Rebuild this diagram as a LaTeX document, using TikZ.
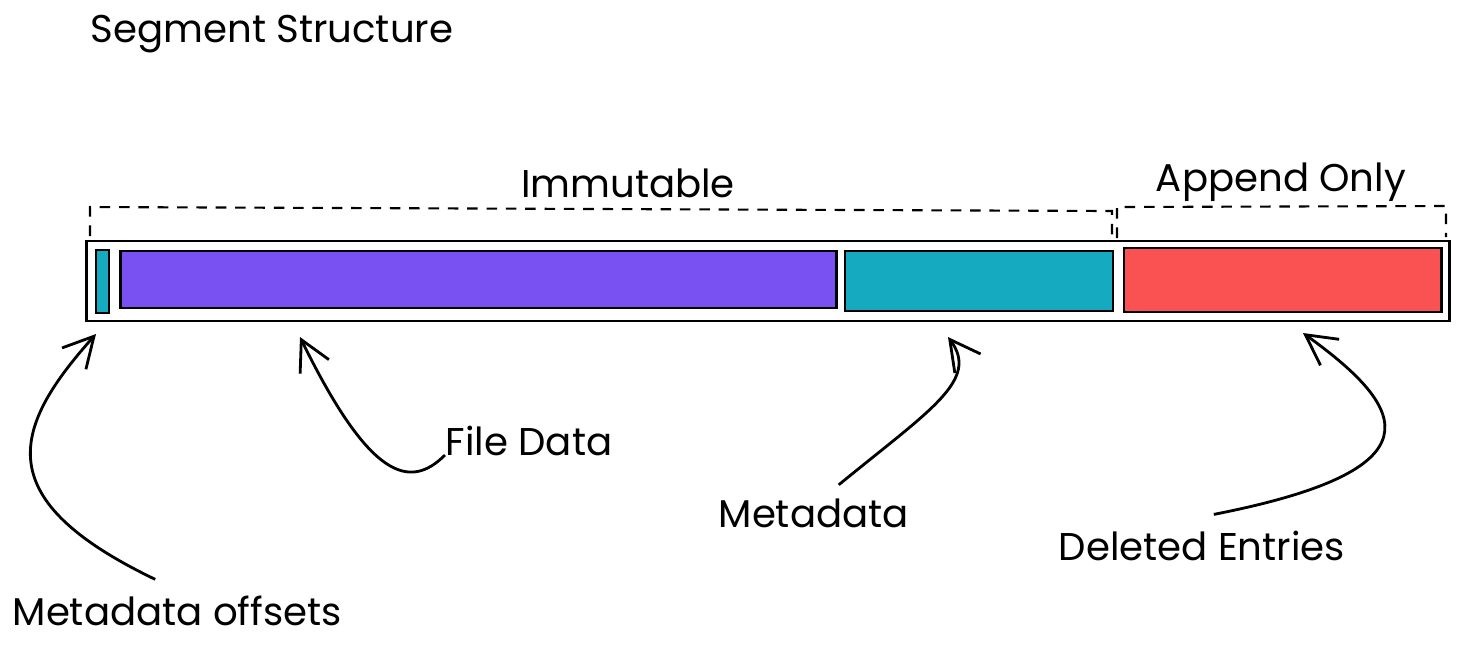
\documentclass[tikz,border=0pt]{standalone}
\usepackage{fontspec}
\setmainfont{Poppins}
\usepackage{xcolor}
\definecolor{segviolet}{RGB}{121,80,242}
\definecolor{segteal}{RGB}{21,170,191}
\definecolor{segred}{RGB}{250,82,82}
\usetikzlibrary{arrows.meta, positioning, calc}

\tikzset{
  part/.style={draw=black, line width=0.8pt, inner sep=0pt},
  hand/.style={font=\fontsize{11}{13}\selectfont, inner sep=0pt},
  bracket/.style={black, line width=0.6pt, dash pattern=on 3pt off 2.5pt},
  pointer/.style={black, line width=0.8pt, -{Straight Barb[length=3mm, width=3.2mm]}},
}

\begin{document}
\begin{tikzpicture}[x=0.01cm, y=-0.01cm]
\useasboundingbox (0,0) rectangle (1459,647);

% Title
\node[hand, anchor=west] (title) at (90,34) {Segment Structure};

% === Segment bar ===
\node[part, minimum width=13.62cm, minimum height=0.80cm] (segment) at (768,281) {};
\node[part, fill=segteal, minimum width=0.13cm, minimum height=0.63cm] (offsets) at (102.5,281.5) {};
\node[part, fill=segviolet, minimum width=7.15cm, minimum height=0.57cm] (filedata) at (478.5,279.5) {};
\node[part, fill=segteal, minimum width=2.68cm, minimum height=0.60cm] (metadata) at (979,281) {};
\node[part, fill=segred, minimum width=3.17cm, minimum height=0.64cm] (deleted) at (1282.5,280) {};

% === Brackets ===
\draw[bracket] (90,236) -- (90,207) -- (1112,211) -- (1112,238);
\draw[bracket] (1117,238) -- (1117,207) -- (1446,206) -- (1446,237);
\node[hand] (immutable) at (628,183) {Immutable};
\node[hand] (append) at (1281,182) {Append Only};

% === Labels ===
\node[hand, anchor=west] (lbloffsets) at (12,611) {Metadata offsets};
\node[hand, anchor=west] (lblfiledata) at (445,441) {File Data};
\node[hand, anchor=west] (lblmetadata) at (718,513) {Metadata};
\node[hand, anchor=west] (lbldeleted) at (1058,546) {Deleted Entries};

% arrow tips just under the bar
\coordinate (tipoffsets) at (96,334);
\coordinate (tipfiledata) at (300,337);
\coordinate (tipmetadata) at (948,337);
\coordinate (tipdeleted) at (1303,333);

% === Pointers ===
\draw[pointer] ([xshift=-0.22cm, yshift=0.16cm]lbloffsets.north) .. controls (-10,500) and (10,430) .. (tipoffsets);
\draw[pointer] ([yshift=-0.14cm]lblfiledata.west) .. controls (410,490) and (370,480) .. (tipfiledata);
\draw[pointer] ([xshift=0.25cm, yshift=0.13cm]lblmetadata.north) .. controls (930,410) and (980,380) .. (tipmetadata);
\draw[pointer] ([xshift=0.12cm, yshift=0.16cm]lbldeleted.north) .. controls (1440,470) and (1410,410) .. (tipdeleted);

\end{tikzpicture}
\end{document}
